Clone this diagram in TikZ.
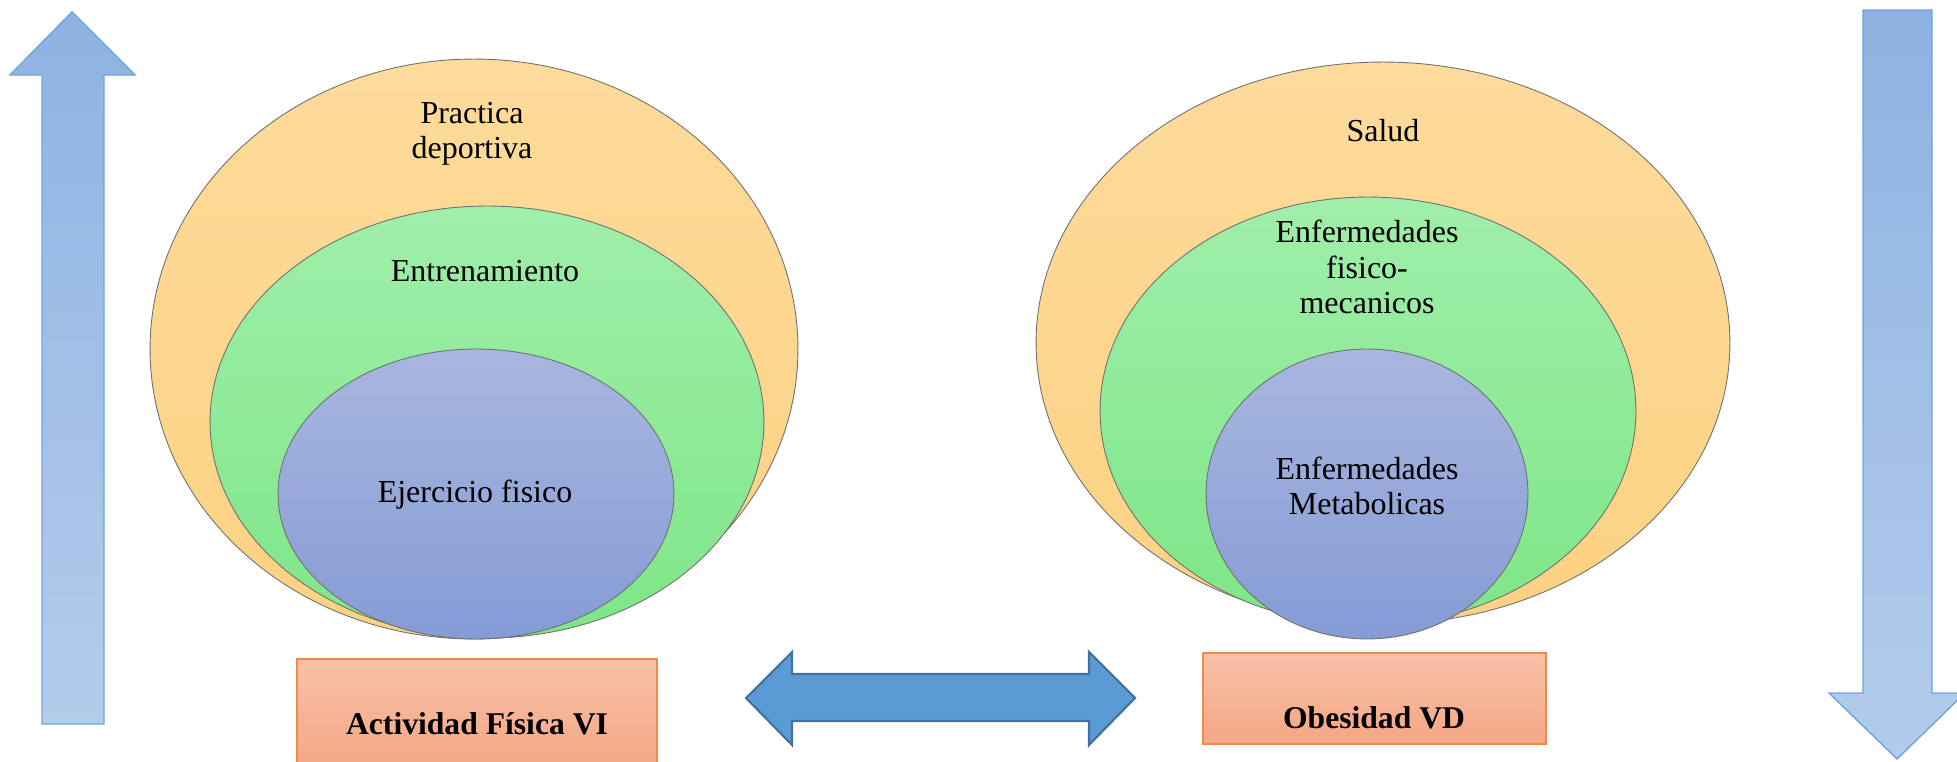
\documentclass[tikz,border=0pt]{standalone}
\usepackage{fontspec}
\setmainfont{Liberation Serif}
\usepackage{tikz}
\usetikzlibrary{shapes.geometric, positioning}

\definecolor{orangetop}{HTML}{FDDB9B}
\definecolor{orangebot}{HTML}{FCD282}
\definecolor{greentop}{HTML}{A0EEAA}
\definecolor{greenbot}{HTML}{7EE687}
\definecolor{bluetop}{HTML}{A9B7DF}
\definecolor{bluebot}{HTML}{859BD5}
\definecolor{ringline}{HTML}{707070}
\definecolor{arrowtop}{HTML}{8DB3E2}
\definecolor{arrowbot}{HTML}{B4CCEA}
\definecolor{arrowline}{HTML}{6FA3DC}
\definecolor{linkfill}{HTML}{5B9BD5}
\definecolor{linkline}{HTML}{41719C}
\definecolor{boxtop}{HTML}{F8C1A8}
\definecolor{boxbot}{HTML}{F4A784}
\definecolor{boxline}{HTML}{F08A4B}

\begin{document}
\begin{tikzpicture}[
    x=0.02cm, y=0.02cm,
    ring/.style={ellipse, draw=ringline, line width=0.5pt, inner sep=0pt},
    outer/.style={ring, top color=orangetop, bottom color=orangebot},
    middle/.style={ring, top color=greentop, bottom color=greenbot},
    inner/.style={ring, top color=bluetop, bottom color=bluebot},
    txt/.style={align=center, font=\fontsize{18.2}{20}\selectfont},
    varbox/.style={draw=boxline, line width=0.8pt, top color=boxtop, bottom color=boxbot},
    vararrow/.style={draw=arrowline, line width=0.8pt, top color=arrowtop, bottom color=arrowbot},
    boxtxt/.style={font=\fontsize{18}{21}\selectfont\bfseries}
]
\useasboundingbox (0,0) rectangle (1957,761);

% Left side: nested ellipses
\node[outer, minimum width=12.96cm, minimum height=11.60cm] (pract) at (474,412) {};
\node[middle, minimum width=11.08cm, minimum height=8.64cm] (entr) at (487,339) {};
\node[inner, minimum width=7.92cm, minimum height=5.80cm] (ejer) at (476,267) {};

\node[txt] (practtxt) at (472,627) {Practica\\deportiva};
\node[txt] (entrtxt) at (485,490) {Entrenamiento};
\node[txt] (ejertxt) at (475,266) {Ejercicio fisico};

% Right side: nested ellipses
\node[outer, minimum width=13.88cm, minimum height=11.24cm] (salud) at (1383,418) {};
\node[middle, minimum width=10.72cm, minimum height=8.56cm] (fismec) at (1368,350) {};
\node[inner, minimum width=6.44cm, minimum height=5.80cm] (metab) at (1367,267) {};

\node[txt] (saludtxt) at (1383,630) {Salud};
\node[txt] (fismectxt) at (1367,494) {Enfermedades\\fisico-\\mecanicos};
\node[txt] (metabtxt) at (1367,275) {Enfermedades\\Metabolicas};

% Variable boxes
\draw[varbox] (297,-5) rectangle (657,102);
\node[boxtxt] (vi) at (477,37) {Actividad Física VI};
\draw[varbox] (1203,17) rectangle (1546,108);
\node[boxtxt] (vd) at (1374,43) {Obesidad VD};

% Double arrow between the boxes
\draw[fill=linkfill, draw=linkline, line width=1.2pt, line join=miter]
    (746,63) -- (792,109) -- (792,87) -- (1089,87) -- (1089,109) -- (1135,63)
    -- (1089,16) -- (1089,40) -- (792,40) -- (792,16) -- cycle;

% Up arrow (left)
\draw[vararrow] (42,37) -- (42,686) -- (10,686) -- (72,749) -- (135,686)
    -- (104,686) -- (104,37) -- cycle;

% Down arrow (right)
\draw[vararrow] (1863,751) -- (1932,751) -- (1932,68) -- (1965,68) -- (1897,2)
    -- (1829,68) -- (1863,68) -- cycle;

\end{tikzpicture}
\end{document}
